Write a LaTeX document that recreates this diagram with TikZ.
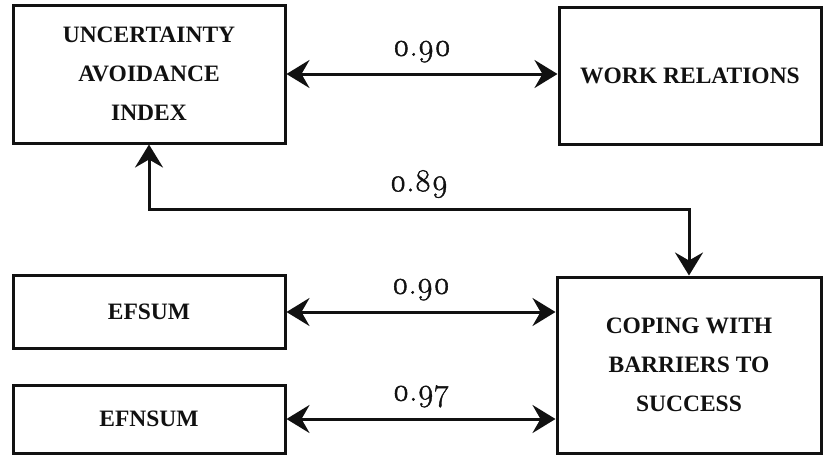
\documentclass[tikz,border=0pt]{standalone}
\usepackage{fontspec}
\setmainfont{Liberation Serif}
\newfontfamily\numfont{Latin Modern Roman}[Numbers=OldStyle, FakeBold=1.2]
\usetikzlibrary{arrows.meta, positioning, calc}
\definecolor{ink}{HTML}{111111}
\tikzset{
  >={Stealth[length=23pt, width=28pt, inset=8pt]},
  %
  box/.style={
    draw=ink, line width=3pt, fill=white, align=center, text=ink,
    font=\fontsize{23.5}{39}\selectfont\bfseries, inner sep=0pt,
  },
  %
  link/.style={draw=ink, line width=3pt, <->},
  %
  val/.style={font=\fontsize{32}{32}\selectfont\numfont, text=ink, inner sep=0pt},
}

\begin{document}
\begin{tikzpicture}[x=1pt, y=-1pt]
  \useasboundingbox (0,0) rectangle (823,456);

  % --- the five scales ---------------------------------------------------
  \node[box, minimum width=272pt, minimum height=138pt] (uai) at (149,74)
    {UNCERTAINTY\\AVOIDANCE\\INDEX};
  \node[box, minimum width=262pt, minimum height=137pt] (wr) at (690,76)
    {WORK RELATIONS};
  \node[box, minimum width=272pt, minimum height=73pt] (efs) at (149,312)
    {EFSUM};
  \node[box, minimum width=272pt, minimum height=68pt] (efn) at (149,419)
    {EFNSUM};
  \node[box, minimum width=264pt, minimum height=176pt] (cope) at (689,365)
    {COPING WITH\\BARRIERS TO\\SUCCESS};

  % --- correlations ------------------------------------------------------
  \draw[link] (uai.east) -- node[val, above=10pt] {0.90} (uai.east -| wr.west);
  \draw[link] (uai.south) -- ++(0,65) -| node[val, pos=0.25, above=10pt] {0.89} (cope.north);
  \draw[link] (efs.east) -- node[val, above=10pt] {0.90} (efs.east -| cope.west);
  \draw[link] (efn.east) -- node[val, above=10pt] {0.97} (efn.east -| cope.west);

\end{tikzpicture}
\end{document}
